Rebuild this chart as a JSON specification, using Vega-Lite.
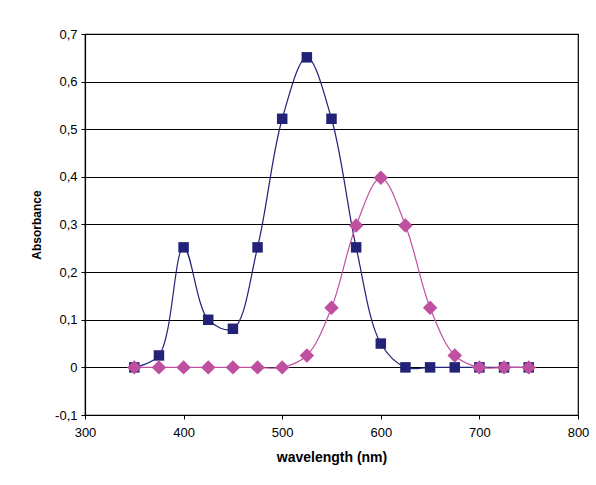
{
  "$schema": "https://vega.github.io/schema/vega-lite/v6.json",
  "width": 493,
  "height": 381,
  "autosize": {"type": "none"},
  "padding": {"left": 85, "top": 34, "right": 18, "bottom": 70},
  "background": "white",
  "config": {
    "font": "Liberation Sans",
    "view": {"stroke": "black", "strokeWidth": 1.2},
    "axis": {
      "domainColor": "black",
      "domainWidth": 1.2,
      "tickColor": "black",
      "tickSize": 4,
      "labelFlush": false,
      "labelFont": "Liberation Sans",
      "labelFontSize": 13,
      "labelColor": "black",
      "titleFont": "Liberation Sans",
      "titleFontSize": 12,
      "titleFontWeight": "bold",
      "titleColor": "black"
    }
  },
  "data": {
    "values": [
      {"wl": 350, "abs": 0, "s": "A"},
      {"wl": 375, "abs": 0.025, "s": "A"},
      {"wl": 400, "abs": 0.252, "s": "A"},
      {"wl": 425, "abs": 0.1, "s": "A"},
      {"wl": 450, "abs": 0.081, "s": "A"},
      {"wl": 475, "abs": 0.252, "s": "A"},
      {"wl": 500, "abs": 0.522, "s": "A"},
      {"wl": 525, "abs": 0.651, "s": "A"},
      {"wl": 550, "abs": 0.522, "s": "A"},
      {"wl": 575, "abs": 0.252, "s": "A"},
      {"wl": 600, "abs": 0.05, "s": "A"},
      {"wl": 625, "abs": 0, "s": "A"},
      {"wl": 650, "abs": 0, "s": "A"},
      {"wl": 675, "abs": 0, "s": "A"},
      {"wl": 700, "abs": 0, "s": "A"},
      {"wl": 725, "abs": 0, "s": "A"},
      {"wl": 750, "abs": 0, "s": "A"},
      {"wl": 350, "abs": 0, "s": "B"},
      {"wl": 375, "abs": 0, "s": "B"},
      {"wl": 400, "abs": 0, "s": "B"},
      {"wl": 425, "abs": 0, "s": "B"},
      {"wl": 450, "abs": 0, "s": "B"},
      {"wl": 475, "abs": 0, "s": "B"},
      {"wl": 500, "abs": 0, "s": "B"},
      {"wl": 525, "abs": 0.025, "s": "B"},
      {"wl": 550, "abs": 0.125, "s": "B"},
      {"wl": 575, "abs": 0.298, "s": "B"},
      {"wl": 600, "abs": 0.398, "s": "B"},
      {"wl": 625, "abs": 0.298, "s": "B"},
      {"wl": 650, "abs": 0.125, "s": "B"},
      {"wl": 675, "abs": 0.025, "s": "B"},
      {"wl": 700, "abs": 0, "s": "B"},
      {"wl": 725, "abs": 0, "s": "B"},
      {"wl": 750, "abs": 0, "s": "B"}
    ]
  },
  "encoding": {
    "x": {
      "field": "wl",
      "type": "quantitative",
      "scale": {"domain": [300, 800], "nice": false, "zero": false},
      "axis": {
        "title": "wavelength (nm)",
        "titleFontSize": 14,
        "values": [300, 400, 500, 600, 700, 800],
        "grid": false,
        "labelPadding": 7,
        "titlePadding": 11
      }
    },
    "y": {
      "field": "abs",
      "type": "quantitative",
      "scale": {"domain": [-0.1, 0.7], "nice": false, "zero": false},
      "axis": {
        "title": "Absorbance",
        "values": [-0.1, 0, 0.1, 0.2, 0.3, 0.4, 0.5, 0.6, 0.7],
        "labelExpr": "datum.value == 0 ? '0' : replace(replace(format(datum.value, '.1f'), '.', ','), '\u2212', '-')",
        "grid": true,
        "gridColor": "black",
        "gridWidth": 1,
        "gridOpacity": 1,
        "labelPadding": 4,
        "titlePadding": 11
      }
    },
    "color": {
      "field": "s",
      "type": "nominal",
      "scale": {"domain": ["A", "B"], "range": ["#222277", "#BF50A0"]},
      "legend": null
    }
  },
  "layer": [
    {
      "mark": {"type": "line", "interpolate": "catmull-rom", "strokeWidth": 1.2},
      "encoding": {
        "detail": {"field": "s"}
      }
    },
    {
      "mark": {"type": "point", "filled": true, "opacity": 1},
      "encoding": {
        "shape": {
          "field": "s",
          "type": "nominal",
          "scale": {"domain": ["A", "B"], "range": ["square", "diamond"]},
          "legend": null
        },
        "size": {
          "field": "s",
          "type": "nominal",
          "scale": {"domain": ["A", "B"], "range": [110, 210]},
          "legend": null
        }
      }
    }
  ]
}
